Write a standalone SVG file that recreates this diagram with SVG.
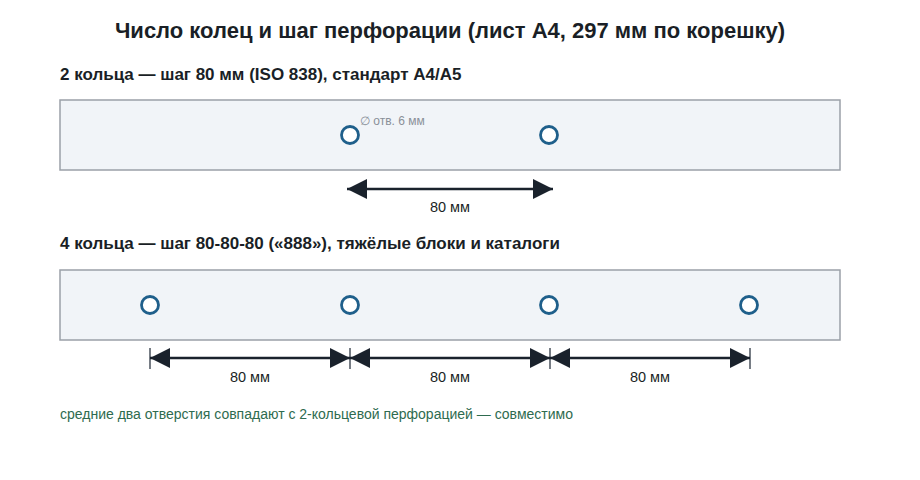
<svg xmlns="http://www.w3.org/2000/svg" width="920" height="480" viewBox="0 0 920 480">
<defs>
<style>
text{font-family:"Liberation Sans",Arial,sans-serif}
.title{font-size:22px;font-weight:bold;fill:#1a1f26}
.h{font-size:17px;font-weight:bold;fill:#1a1f26}
.strip{fill:#f1f4f8;stroke:#9aa0a8;stroke-width:1.5}
.hole{fill:#fff;stroke:#1f5f8b;stroke-width:2.8}
.dim{stroke:#1a222c;stroke-width:2.5;fill:none}
.tick{stroke:#4a525c;stroke-width:1.5}
.lbl{font-size:14.5px;fill:#1a1f26;text-anchor:middle}
.note{font-size:12px;fill:#8a9099}
.foot{font-size:14px;fill:#2e6b4f}
</style>
<marker id="a" viewBox="0 0 20 20" refX="20" refY="10" markerWidth="20" markerHeight="20" markerUnits="userSpaceOnUse" orient="auto-start-reverse">
<path d="M0,0 L20,10 L0,20 z" fill="#1a222c"/>
</marker>
</defs>
<text class="title" x="450" y="38" text-anchor="middle">Число колец и шаг перфорации (лист А4, 297 мм по корешку)</text>

<g id="strip2">
<text class="h" x="60" y="80">2 кольца — шаг 80 мм (ISO 838), стандарт А4/А5</text>
<rect class="strip" x="60" y="100" width="780" height="70"/>
</g>
<g id="holes2">
<circle id="h2a" class="hole" cx="350" cy="135" r="8.5"/>
<circle id="h2b" class="hole" cx="549" cy="135" r="8.5"/>
<text class="note" x="360" y="125">∅ отв. 6 мм</text>
</g>

<g id="strip4">
<text class="h" x="60" y="249">4 кольца — шаг 80-80-80 («888»), тяжёлые блоки и каталоги</text>
<rect class="strip" x="60" y="270" width="780" height="70"/>
</g>
<g id="holes4">
<circle id="h4a" class="hole" cx="150" cy="305" r="8.5"/>
<circle id="h4b" class="hole" cx="350" cy="305" r="8.5"/>
<circle id="h4c" class="hole" cx="549" cy="305" r="8.5"/>
<circle id="h4d" class="hole" cx="749" cy="305" r="8.5"/>
</g>

<g id="connectors">
<line class="dim" x1="347" y1="189" x2="553" y2="189" marker-start="url(#a)" marker-end="url(#a)"/>
<line class="tick" x1="150" y1="348" x2="150" y2="369"/>
<line class="tick" x1="350" y1="348" x2="350" y2="369"/>
<line class="tick" x1="550" y1="348" x2="550" y2="369"/>
<line class="tick" x1="750" y1="348" x2="750" y2="369"/>
<line class="dim" x1="150" y1="358" x2="350" y2="358" marker-start="url(#a)" marker-end="url(#a)"/>
<line class="dim" x1="350" y1="358" x2="550" y2="358" marker-start="url(#a)" marker-end="url(#a)"/>
<line class="dim" x1="550" y1="358" x2="750" y2="358" marker-start="url(#a)" marker-end="url(#a)"/>
</g>
<g id="labels">
<text class="lbl" x="450" y="212">80 мм</text>
<text class="lbl" x="250" y="382">80 мм</text>
<text class="lbl" x="450" y="382">80 мм</text>
<text class="lbl" x="650" y="382">80 мм</text>
</g>
<text class="foot" x="60" y="419">средние два отверстия совпадают с 2-кольцевой перфорацией — совместимо</text>
</svg>
